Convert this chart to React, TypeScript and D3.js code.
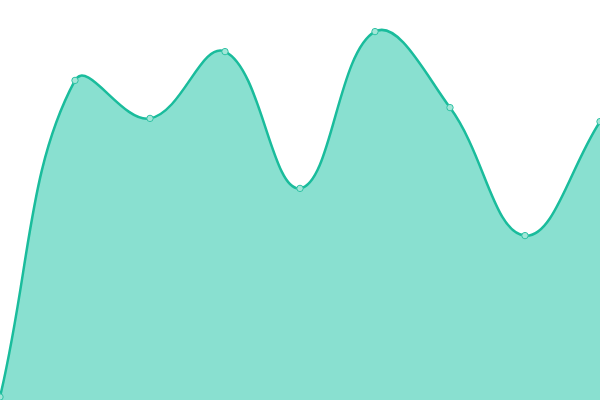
import React from "react";
import * as d3 from "d3";

const labels = ["A", "B", "C", "D", "E", "F", "G", "H", "I"];
const values = [0.75, 79.9, 70.4, 87.1, 52.9, 92.1, 73.1, 41.1, 69.6];

const W = 600;
const H = 400;
const TENSION = 0.4;

type P = { x: number; y: number };

function buildPath(pts: P[], closeToBottom: boolean): string {
  const p = d3.path();
  const n = pts.length;
  const cps: { cpPrev: P; cpNext: P }[] = pts.map((cur, i) => {
    const prev = pts[Math.max(0, i - 1)];
    const next = pts[Math.min(n - 1, i + 1)];
    const d01 = Math.hypot(cur.x - prev.x, cur.y - prev.y);
    const d12 = Math.hypot(next.x - cur.x, next.y - cur.y);
    let s01 = d01 / (d01 + d12);
    let s12 = d12 / (d01 + d12);
    s01 = isNaN(s01) ? 0 : s01;
    s12 = isNaN(s12) ? 0 : s12;
    const fa = TENSION * s01;
    const fb = TENSION * s12;
    const clampX = (v: number) => Math.max(0, Math.min(W, v));
    const clampY = (v: number) => Math.max(0, Math.min(H, v));
    return {
      cpPrev: { x: clampX(cur.x - fa * (next.x - prev.x)), y: clampY(cur.y - fa * (next.y - prev.y)) },
      cpNext: { x: clampX(cur.x + fb * (next.x - prev.x)), y: clampY(cur.y + fb * (next.y - prev.y)) },
    };
  });
  p.moveTo(pts[0].x, pts[0].y);
  for (let i = 1; i < n; i++) {
    const a = cps[i - 1].cpNext;
    const b = cps[i].cpPrev;
    p.bezierCurveTo(a.x, a.y, b.x, b.y, pts[i].x, pts[i].y);
  }
  if (closeToBottom) {
    p.lineTo(pts[n - 1].x, H);
    p.lineTo(pts[0].x, H);
    p.closePath();
  }
  return p.toString();
}

export default function App() {
  const x = d3.scalePoint<string>().domain(labels).range([0, W]);
  const y = d3.scaleLinear().domain([0, 100]).range([H, 0]);
  const pts: P[] = labels.map((l, i) => ({ x: x(l) as number, y: y(values[i]) }));

  return (
    <svg
      width={W}
      height={H}
      style={{ position: "fixed", left: 0, top: 0, display: "block", background: "#fff" }}
    >
      <path d={buildPath(pts, true)} fill="#89e0d0" stroke="none" />
      <path d={buildPath(pts, false)} fill="none" stroke="#1abc9c" strokeWidth={2.5} />
      {pts.map((pt, i) => (
        <circle key={i} cx={pt.x} cy={pt.y} r={3.2} fill="#a3e6d8" stroke="#2fc2a4" strokeWidth={1} />
      ))}
    </svg>
  );
}
